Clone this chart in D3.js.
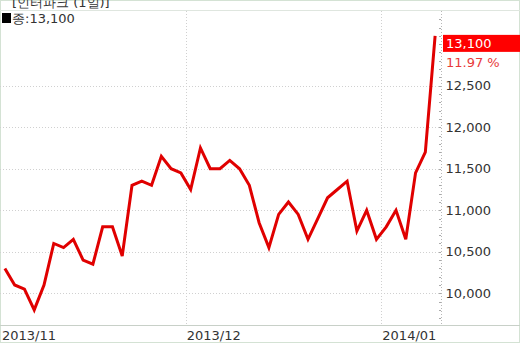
<!DOCTYPE html>
<html><head><meta charset="utf-8">
<script src="https://cdnjs.cloudflare.com/ajax/libs/d3/7.8.5/d3.min.js"></script>
<style>html,body{margin:0;padding:0;background:#fff;}svg{display:block;}</style>
</head><body>
<script>
const title = "[인터파크 (1일)]";
const legendLabel = "종:13,100";
const dates = [
 "2013/11/05","2013/11/06","2013/11/07","2013/11/08","2013/11/11","2013/11/12","2013/11/13","2013/11/14","2013/11/15",
 "2013/11/18","2013/11/19","2013/11/20","2013/11/21","2013/11/22","2013/11/25","2013/11/26","2013/11/27","2013/11/28","2013/11/29",
 "2013/12/02","2013/12/03","2013/12/04","2013/12/05","2013/12/06","2013/12/09","2013/12/10","2013/12/11","2013/12/12","2013/12/13",
 "2013/12/16","2013/12/17","2013/12/18","2013/12/19","2013/12/20","2013/12/23","2013/12/24","2013/12/26","2013/12/27","2013/12/30",
 "2014/01/02","2014/01/03","2014/01/06","2014/01/07","2014/01/08","2014/01/09"
];
const closes = [
 10300,10100,10050,9800,10100,10600,10550,10650,10400,10350,
 10800,10800,10450,11300,11350,11300,11650,11500,11450,11250,
 11750,11500,11500,11600,11500,11300,10850,10550,10950,11100,
 10950,10650,10900,11150,11250,11350,10750,11000,10650,10800,
 11000,10650,11450,11700,13100
];
const yTicks = [10000,10500,11000,11500,12000,12500];
const monthStarts = ["2013/11/05","2013/12/02","2014/01/02"];
const monthLabels = ["2013/11","2013/12","2014/01"];
const lastLabel = "13,100";
const changeLabel = "11.97 %";

const W = 520, H = 343;
const svg = d3.select("body").append("svg").attr("width", W).attr("height", H)
  .style("font-family", "'DejaVu Sans', sans-serif");

const x = d3.scaleBand().domain(dates).range([0, 440]).padding(0);
const y = d3.scaleLinear().domain([10000, 12500]).range([293.3, 85.7]);
const xc = d => x(d) + x.bandwidth() / 2;

// frame
svg.append("rect").attr("x", 0.5).attr("y", 0.5).attr("width", W - 1).attr("height", H - 1)
  .attr("fill", "none").attr("stroke", "#d4e2d4");
// title (partly above the top edge, as in the original)
svg.append("text").attr("x", 12).attr("y", 7).attr("font-size", 13).attr("fill", "#333").text(title);
svg.append("line").attr("x1", 0).attr("x2", W).attr("y1", 10.5).attr("y2", 10.5).attr("stroke", "#dfe6df");
// legend
svg.append("rect").attr("x", 2).attr("y", 13).attr("width", 9).attr("height", 10).attr("fill", "#000");
svg.append("text").attr("x", 12).attr("y", 23).attr("font-size", 13).attr("fill", "#333").text(legendLabel);

// horizontal gridlines
svg.append("g").selectAll("line").data(yTicks).join("line")
  .attr("x1", 0).attr("x2", 441).attr("y1", d => Math.round(y(d)) + 0.5).attr("y2", d => Math.round(y(d)) + 0.5)
  .attr("stroke", "#d0d0d0").attr("stroke-dasharray", "1,2");
// vertical gridlines
svg.append("g").selectAll("line").data(monthStarts.slice(1)).join("line")
  .attr("x1", d => Math.round(x(d)) + 0.5).attr("x2", d => Math.round(x(d)) + 0.5)
  .attr("y1", 11).attr("y2", 325).attr("stroke", "#d0d0d0").attr("stroke-dasharray", "1,2");

// bottom axis line
svg.append("line").attr("x1", 0).attr("x2", W).attr("y1", 325.5).attr("y2", 325.5).attr("stroke", "#c8d0c8");

// right axis
const axis = d3.axisRight(y).tickValues(yTicks).tickSize(0).tickPadding(4)
  .tickFormat(d3.format(","));
const ag = svg.append("g").attr("transform", "translate(441.5,0)").call(axis);
ag.select(".domain").remove();
ag.selectAll("text").attr("font-size", 13).attr("fill", "#333").attr("font-family", "'DejaVu Sans', sans-serif");
svg.append("line").attr("x1", 441.5).attr("x2", 441.5).attr("y1", 11).attr("y2", 325)
  .attr("stroke", "#b8b8b8").attr("stroke-dasharray", "1,2");
const minor = d3.range(9700, 13400, 100);
svg.append("g").selectAll("line").data(minor.filter(v => y(v) > 12 && y(v) < 324)).join("line")
  .attr("x1", 439).attr("x2", 441).attr("y1", d => Math.round(y(d)) + 0.5).attr("y2", d => Math.round(y(d)) + 0.5)
  .attr("stroke", "#aaa");

// x labels
svg.append("g").selectAll("text").data(monthStarts).join("text")
  .attr("x", (d, i) => i === 0 ? 2 : x(d) + 1).attr("y", 340).attr("font-size", 13).attr("fill", "#333")
  .text((d, i) => monthLabels[i]);

// line
const line = d3.line().x((d, i) => xc(dates[i])).y(d => y(d));
svg.append("path").datum(closes).attr("d", line).attr("fill", "none")
  .attr("stroke", "#e00000").attr("stroke-width", 3).attr("stroke-linejoin", "miter");

// last value label
const lastY = y(closes[closes.length - 1]);
svg.append("rect").attr("x", 443).attr("y", lastY - 1).attr("width", 77).attr("height", 17).attr("fill", "#ff0000");
svg.append("text").attr("x", 446).attr("y", lastY + 12).attr("font-size", 13).attr("fill", "#fff").text(lastLabel);
svg.append("text").attr("x", 446).attr("y", lastY + 31).attr("font-size", 13).attr("fill", "#e83a3a").text(changeLabel);
</script>
</body></html>
